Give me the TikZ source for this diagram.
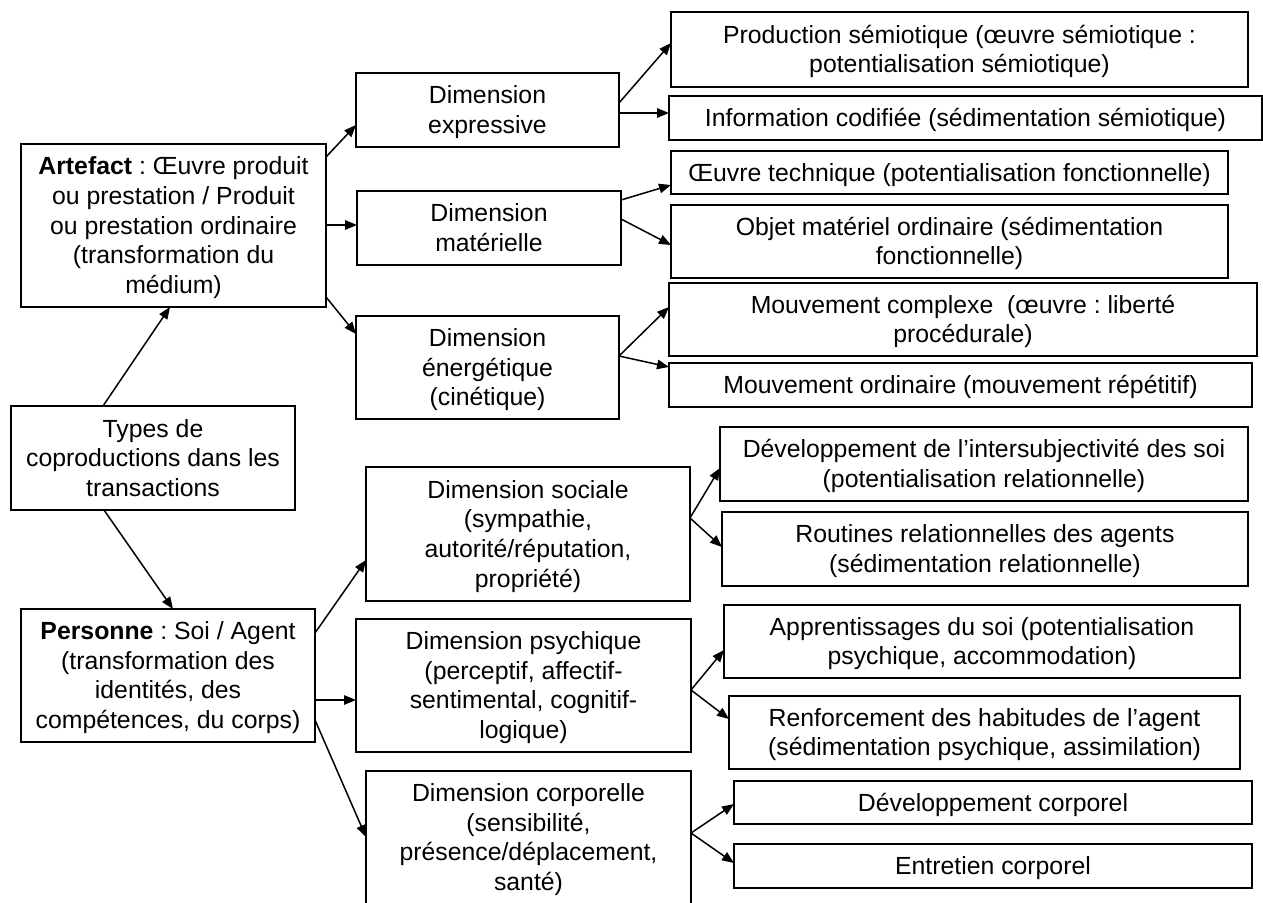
\documentclass[tikz,border=0pt]{standalone}
\usepackage{fontspec}
\setmainfont{Liberation Sans}
\usetikzlibrary{arrows.meta}
\frenchspacing
\newcommand{\stA}{\rule{0pt}{23.4pt}}
\newcommand{\stB}{\rule[-6.2pt]{0pt}{6.2pt}}
\newcommand{\bx}[6]{\node[box, minimum width={#4-#2}, minimum height={#5-#3}] (#1) at ({(#2+#4)/2},{(#3+#5)/2}) {\stA #6\stB};}
\tikzset{
  box/.style={draw=black, line width=1.4pt, inner sep=0pt, outer sep=0pt, align=center,
    font=\fontsize{24.8}{29.6}\selectfont},
  arr/.style={draw=black, line width=1.5pt, -{Triangle[length=12pt,width=9.5pt]}}
}
\begin{document}
\begin{tikzpicture}[x=1pt,y=-1pt]
\fill[white] (0,0) rectangle (1263,902);
\useasboundingbox (0,0) rectangle (1263,902);
% left column
\bx{types}{11}{406}{295}{510}{Types de\\coproductions dans les\\transactions}
\bx{art}{21}{144}{326}{307}{\textbf{Artefact} : Œuvre produit\\ou prestation / Produit\\ou prestation ordinaire\\(transformation du\\médium)}
\bx{pers}{21}{609}{315}{742}{\textbf{Personne} : Soi / Agent\\(transformation des\\identités, des\\compétences, du corps)}
% middle column
\bx{expr}{356}{73}{619}{147}{Dimension\\expressive}
\bx{mat}{357}{191}{621}{265}{Dimension\\matérielle}
\bx{ener}{356}{316}{619}{419}{Dimension\\énergétique\\(cinétique)}
\bx{soc}{366}{467}{690}{601}{Dimension sociale\\(sympathie,\\autorité/réputation,\\propriété)}
\bx{psy}{356}{619}{691}{752}{Dimension psychique\\(perceptif, affectif-\\sentimental, cognitif-\\logique)}
\bx{corp}{366}{771}{691}{904}{Dimension corporelle\\(sensibilité,\\présence/déplacement,\\santé)}
% right column
\bx{prod}{671}{12}{1248}{87}{Production sémiotique (œuvre sémiotique :\\potentialisation sémiotique)}
\bx{info}{669}{96}{1262}{140}{Information codifiée (sédimentation sémiotique)}
\bx{oeuv}{671}{151}{1228}{194}{Œuvre technique (potentialisation fonctionnelle)}
\bx{obj}{671}{205}{1228}{278}{Objet matériel ordinaire (sédimentation\\fonctionnelle)}
\bx{mc}{669}{283}{1257}{356}{Mouvement complexe \ (œuvre : liberté\\procédurale)}
\bx{mo}{669}{363}{1252}{407}{Mouvement ordinaire (mouvement répétitif)}
\bx{devi}{720}{427}{1248}{501}{Développement de l’intersubjectivité des soi\\(potentialisation relationnelle)}
\bx{rout}{722}{512}{1248}{586}{Routines relationnelles des agents\\(sédimentation relationnelle)}
\bx{appr}{724}{605}{1240}{678}{Apprentissages du soi (potentialisation\\psychique, accommodation)}
\bx{renf}{729}{696}{1240}{769}{Renforcement des habitudes de l’agent\\(sédimentation psychique, assimilation)}
\bx{devc}{734}{781}{1252}{824}{Développement corporel}
\bx{entr}{734}{844}{1252}{888}{Entretien corporel}
% connectors
\draw[arr] (types.north -| 103,0) -- (art.south -| 170,0);
\draw[arr] (types.south -| 104,0) -- (pers.north -| 173,0);
\draw[arr] (art.east |- 0,157) -- (expr.west |- 0,125);
\draw[arr] (art.east |- 0,225) -- (mat.west |- 0,225);
\draw[arr] (art.east |- 0,297) -- (ener.west |- 0,334);
\draw[arr] (pers.east |- 0,633) -- (soc.west |- 0,560);
\draw[arr] (pers.east |- 0,700) -- (psy.west |- 0,700);
\draw[arr] (pers.east |- 0,720) -- (corp.west |- 0,837);
\draw[arr] (expr.east |- 0,103) -- (prod.west |- 0,43);
\draw[arr] (expr.east |- 0,113) -- (info.west |- 0,113);
\draw[arr] (mat.east |- 0,200) -- (oeuv.west |- 0,185);
\draw[arr] (mat.east |- 0,219) -- (obj.west |- 0,245);
\draw[arr] (ener.east |- 0,356) -- (mc.west |- 0,307);
\draw[arr] (ener.east |- 0,356) -- (mo.west |- 0,367);
\draw[arr] (soc.east |- 0,518) -- (devi.west |- 0,468);
\draw[arr] (soc.east |- 0,518) -- (rout.west |- 0,547);
\draw[arr] (psy.east |- 0,690) -- (appr.west |- 0,650);
\draw[arr] (psy.east |- 0,690) -- (renf.west |- 0,719);
\draw[arr] (corp.east |- 0,833) -- (devc.west |- 0,804);
\draw[arr] (corp.east |- 0,833) -- (entr.west |- 0,863);
\end{tikzpicture}
\end{document}
